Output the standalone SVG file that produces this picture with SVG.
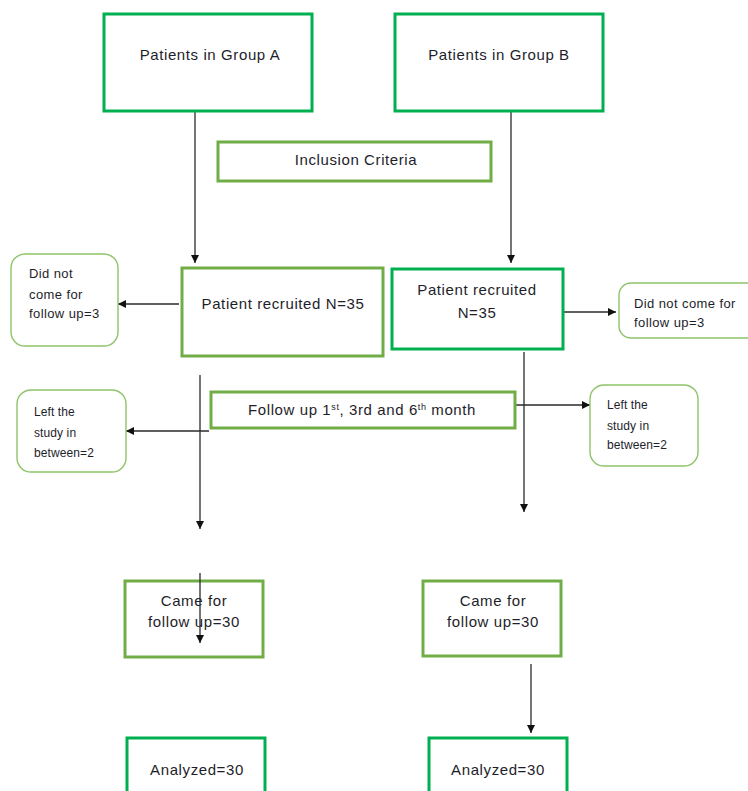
<svg xmlns="http://www.w3.org/2000/svg" width="748" height="791" viewBox="0 0 748 791">
<style>
  .bright { fill: #ffffff; stroke: #00b050; stroke-width: 3; }
  .office { fill: #ffffff; stroke: #70ad47; stroke-width: 3; }
  .soft { fill: #ffffff; stroke: #8fc36b; stroke-width: 1.4; }
  .t { font-family: "Liberation Sans", Arial, sans-serif; font-size: 15px; fill: #1e1e2a; letter-spacing: 0.6px; }
  .s { font-family: "Liberation Sans", Arial, sans-serif; font-size: 13px; fill: #1e1e2a; letter-spacing: 0.4px; }
  .xs { font-family: "Liberation Sans", Arial, sans-serif; font-size: 12px; fill: #1e1e2a; letter-spacing: 0.1px; }
  .c { text-anchor: middle; }
  .ln { stroke: #2a2a2a; stroke-width: 1.3; fill: none; marker-end: url(#ah); }
</style>
<defs>
  <marker id="ah" markerUnits="userSpaceOnUse" markerWidth="9" markerHeight="8" refX="8" refY="4" orient="auto">
    <path d="M0,0 L8,4 L0,8 z" fill="#111111"/>
  </marker>
</defs>
<rect width="748" height="791" fill="#ffffff"/>

<g id="connectors">
  <line class="ln" x1="195" y1="110" x2="195" y2="263"/>
  <line class="ln" x1="511" y1="110" x2="511" y2="263"/>
  <line class="ln" x1="179" y1="304" x2="118" y2="304"/>
  <line class="ln" x1="563" y1="312" x2="616" y2="312"/>
  <line class="ln" x1="200" y1="375" x2="200" y2="529"/>
  <line class="ln" x1="524" y1="352" x2="524" y2="512"/>
  <line class="ln" x1="209" y1="431" x2="126" y2="431"/>
  <line class="ln" x1="515" y1="405" x2="590" y2="405"/>
  <line class="ln" x1="531" y1="664" x2="531" y2="733"/>
</g>

<g id="groupA">
  <rect class="bright" x="104" y="14" width="208" height="97"/>
  <text class="t c" x="210" y="60">Patients in Group A</text>
</g>
<g id="groupB">
  <rect class="bright" x="395" y="14" width="208" height="97"/>
  <text class="t c" x="499" y="60">Patients in Group B</text>
</g>
<g id="inclusion">
  <rect class="office" x="218" y="142" width="273" height="39"/>
  <text class="t c" x="356" y="165">Inclusion Criteria</text>
</g>
<g id="recruitedA">
  <rect class="office" x="182" y="268" width="201" height="88"/>
  <text class="t c" x="283" y="309">Patient recruited N=35</text>
</g>
<g id="recruitedB">
  <rect class="bright" x="392" y="269" width="171" height="80"/>
  <text class="t c" x="477" y="295">Patient recruited</text>
  <text class="t c" x="477" y="318">N=35</text>
</g>
<g id="dropA">
  <rect class="soft" x="11" y="254" width="107" height="92" rx="14"/>
  <text class="s" x="29" y="278">Did not</text>
  <text class="s" x="29" y="299">come for</text>
  <text class="s" x="29" y="318">follow up=3</text>
</g>
<g id="dropB">
  <rect class="soft" x="619" y="283" width="140" height="55" rx="12"/>
  <text class="s" x="634" y="308">Did not come for</text>
  <text class="s" x="634" y="327">follow up=3</text>
</g>
<g id="followup">
  <rect class="office" x="211" y="392" width="304" height="36"/>
  <text class="t" x="248" y="415">Follow up 1<tspan font-size="9" dy="-5">st</tspan><tspan dy="5">, 3rd and 6</tspan><tspan font-size="9" dy="-5">th</tspan><tspan dy="5"> month</tspan></text>
</g>
<g id="leftA">
  <rect class="soft" x="17" y="390" width="109" height="82" rx="14"/>
  <text class="xs" x="34" y="416">Left the</text>
  <text class="xs" x="34" y="437">study in</text>
  <text class="xs" x="34" y="457">between=2</text>
</g>
<g id="leftB">
  <rect class="soft" x="590" y="385" width="108" height="81" rx="14"/>
  <text class="xs" x="607" y="409">Left the</text>
  <text class="xs" x="607" y="430">study in</text>
  <text class="xs" x="607" y="449">between=2</text>
</g>
<g id="cameA">
  <rect class="office" x="125" y="581" width="138" height="76"/>
  <text class="t c" x="194" y="606">Came for</text>
  <text class="t c" x="194" y="627">follow up=30</text>
</g>
<g id="cameB">
  <rect class="office" x="423" y="581" width="138" height="75"/>
  <text class="t c" x="493" y="606">Came for</text>
  <text class="t c" x="493" y="627">follow up=30</text>
</g>
<g id="arrowInCameA">
  <line class="ln" x1="200" y1="573" x2="200" y2="643"/>
</g>
<g id="analyzedA">
  <rect class="bright" x="127" y="738" width="138" height="70"/>
  <text class="t c" x="197" y="775">Analyzed=30</text>
</g>
<g id="analyzedB">
  <rect class="bright" x="429" y="738" width="138" height="70"/>
  <text class="t c" x="498" y="775">Analyzed=30</text>
</g>
</svg>
